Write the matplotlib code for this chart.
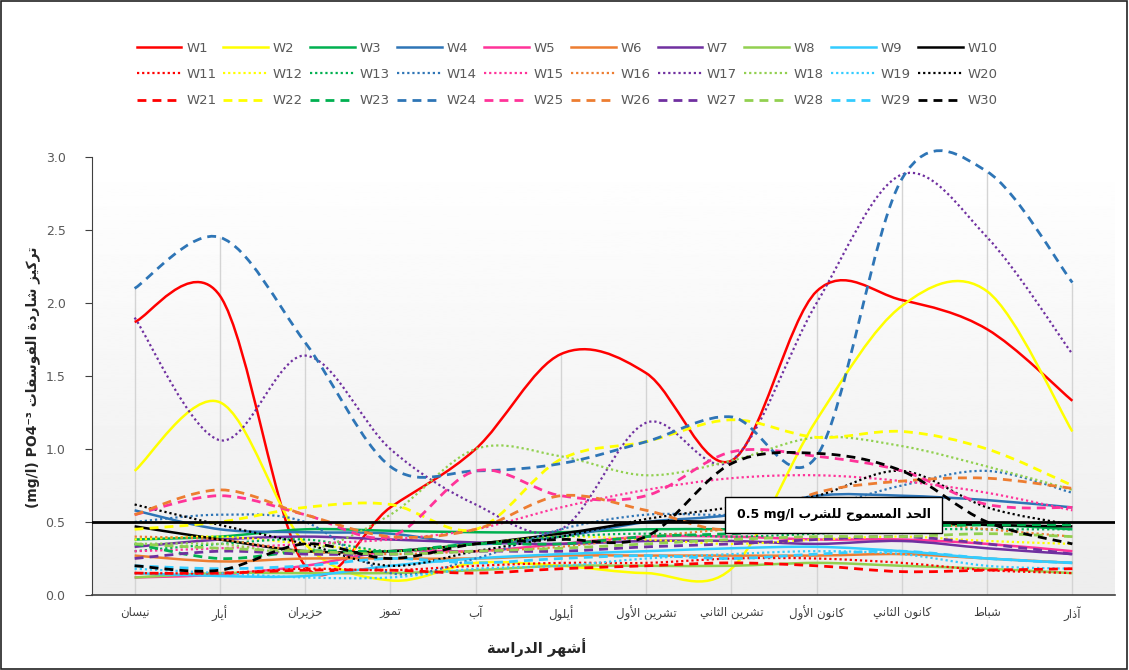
import numpy as np
import matplotlib
matplotlib.use("Agg")
import matplotlib.pyplot as plt
from matplotlib.path import Path
from matplotlib.patches import PathPatch, Rectangle
from matplotlib.lines import Line2D

plt.rcParams['font.family'] = ['DejaVu Sans']

# months of the study (logical Arabic order)
months = ['نيسان', 'أيار', 'حزيران', 'تموز', 'آب', 'أيلول', 'تشرين الأول',
          'تشرين الثاني', 'كانون الأول', 'كانون الثاني', 'شباط', 'آذار']
xtitle = 'أشهر الدراسة'
ytitle_ar = 'تركيز شاردة الفوسفات'
ytitle_lat = '(mg/l) PO4⁻³ '
limit_ar = 'الحد المسموح للشرب'
limit_lat = '0.5 mg/l '
limit_value = 0.5

# PO4 concentration (mg/l) per well, one value per month
W1 = [1.87, 2.05, 0.20, 0.60, 1.00, 1.65, 1.52, 0.92, 2.08, 2.02, 1.82, 1.33]
W2 = [0.85, 1.32, 0.35, 0.10, 0.22, 0.20, 0.15, 0.18, 1.20, 1.98, 2.08, 1.12]
W3 = [0.38, 0.40, 0.45, 0.44, 0.43, 0.43, 0.45, 0.45, 0.45, 0.47, 0.48, 0.45]
W4 = [0.58, 0.45, 0.43, 0.42, 0.35, 0.40, 0.50, 0.55, 0.68, 0.68, 0.65, 0.60]
W5 = [0.12, 0.14, 0.20, 0.30, 0.30, 0.35, 0.40, 0.40, 0.38, 0.38, 0.35, 0.30]
W6 = [0.27, 0.23, 0.25, 0.25, 0.25, 0.27, 0.27, 0.27, 0.27, 0.28, 0.25, 0.22]
W7 = [0.33, 0.38, 0.40, 0.38, 0.36, 0.35, 0.37, 0.37, 0.35, 0.37, 0.32, 0.28]
W8 = [0.12, 0.15, 0.15, 0.15, 0.17, 0.20, 0.20, 0.20, 0.22, 0.20, 0.18, 0.15]
W9 = [0.15, 0.13, 0.13, 0.20, 0.25, 0.28, 0.30, 0.32, 0.33, 0.30, 0.25, 0.22]
W10 = [0.47, 0.38, 0.30, 0.30, 0.35, 0.42, 0.50, 0.50, 0.50, 0.50, 0.48, 0.47]
W11 = [0.15, 0.15, 0.18, 0.17, 0.20, 0.22, 0.22, 0.25, 0.25, 0.22, 0.17, 0.15]
W12 = [0.38, 0.40, 0.35, 0.30, 0.35, 0.40, 0.38, 0.35, 0.38, 0.40, 0.37, 0.35]
W13 = [0.30, 0.35, 0.38, 0.30, 0.35, 0.40, 0.42, 0.40, 0.42, 0.45, 0.45, 0.45]
W14 = [0.50, 0.55, 0.50, 0.15, 0.25, 0.45, 0.55, 0.55, 0.60, 0.75, 0.85, 0.70]
W15 = [0.30, 0.32, 0.35, 0.38, 0.45, 0.60, 0.72, 0.80, 0.82, 0.78, 0.70, 0.58]
W16 = [0.40, 0.38, 0.30, 0.28, 0.30, 0.33, 0.40, 0.45, 0.48, 0.50, 0.45, 0.40]
W17 = [1.90, 1.06, 1.64, 1.00, 0.62, 0.45, 1.18, 0.92, 2.00, 2.88, 2.45, 1.65]
W18 = [0.35, 0.35, 0.30, 0.55, 1.00, 0.95, 0.82, 0.92, 1.08, 1.02, 0.88, 0.72]
W19 = [0.18, 0.15, 0.12, 0.12, 0.18, 0.20, 0.25, 0.28, 0.30, 0.28, 0.20, 0.18]
W20 = [0.62, 0.48, 0.35, 0.20, 0.30, 0.40, 0.52, 0.60, 0.68, 0.85, 0.60, 0.48]
W21 = [0.15, 0.15, 0.17, 0.17, 0.15, 0.18, 0.20, 0.22, 0.20, 0.16, 0.17, 0.18]
W22 = [0.45, 0.50, 0.60, 0.62, 0.45, 0.93, 1.05, 1.20, 1.08, 1.12, 1.00, 0.75]
W23 = [0.35, 0.25, 0.30, 0.30, 0.35, 0.35, 0.40, 0.42, 0.45, 0.47, 0.48, 0.48]
W24 = [2.10, 2.45, 1.73, 0.88, 0.85, 0.90, 1.05, 1.22, 0.95, 2.85, 2.90, 2.14]
W25 = [0.55, 0.68, 0.55, 0.40, 0.85, 0.68, 0.68, 0.98, 0.95, 0.85, 0.62, 0.60]
W26 = [0.55, 0.72, 0.55, 0.40, 0.45, 0.68, 0.58, 0.45, 0.70, 0.78, 0.80, 0.73]
W27 = [0.25, 0.30, 0.28, 0.28, 0.30, 0.30, 0.33, 0.35, 0.38, 0.40, 0.35, 0.28]
W28 = [0.35, 0.32, 0.30, 0.28, 0.30, 0.32, 0.35, 0.38, 0.40, 0.40, 0.42, 0.40]
W29 = [0.20, 0.18, 0.20, 0.25, 0.22, 0.25, 0.27, 0.25, 0.28, 0.30, 0.25, 0.22]
W30 = [0.20, 0.17, 0.35, 0.25, 0.35, 0.38, 0.40, 0.90, 0.97, 0.85, 0.50, 0.35]

series = [W1, W2, W3, W4, W5, W6, W7, W8, W9, W10,
          W11, W12, W13, W14, W15, W16, W17, W18, W19, W20,
          W21, W22, W23, W24, W25, W26, W27, W28, W29, W30]
names = ['W%d' % (i + 1) for i in range(30)]

base_colors = ['#ff0000', '#ffff00', '#00b050', '#2e75b6', '#ff3399',
               '#ed7d31', '#7030a0', '#92d050', '#33ccff', '#000000']

# --- minimal Arabic shaping (matplotlib has no shaping / bidi) ---
four = {'ئ': 0xFE89, 'ب': 0xFE8F, 'ت': 0xFE95, 'ث': 0xFE99, 'ج': 0xFE9D,
        'ح': 0xFEA1, 'خ': 0xFEA5, 'س': 0xFEB1, 'ش': 0xFEB5, 'ص': 0xFEB9,
        'ض': 0xFEBD, 'ط': 0xFEC1, 'ظ': 0xFEC5, 'ع': 0xFEC9, 'غ': 0xFECD,
        'ف': 0xFED1, 'ق': 0xFED5, 'ك': 0xFED9, 'ل': 0xFEDD, 'م': 0xFEE1,
        'ن': 0xFEE5, 'ه': 0xFEE9, 'ي': 0xFEF1}
two = {'آ': 0xFE81, 'أ': 0xFE83, 'ؤ': 0xFE85, 'إ': 0xFE87, 'ا': 0xFE8D,
       'ة': 0xFE93, 'د': 0xFEA9, 'ذ': 0xFEAB, 'ر': 0xFEAD, 'ز': 0xFEAF,
       'و': 0xFEED, 'ى': 0xFEEF}
lamalef = {'آ': 0xFEF5, 'أ': 0xFEF7, 'إ': 0xFEF9, 'ا': 0xFEFB}


def ar(s):
    toks = []
    i = 0
    while i < len(s):
        if s[i] == 'ل' and i + 1 < len(s) and s[i + 1] in lamalef:
            toks.append(('LA', s[i + 1]))
            i += 2
        else:
            toks.append(('C', s[i]))
            i += 1

    def is_ar(t):
        return t[0] == 'LA' or t[1] in four or t[1] in two

    out = []
    for k, t in enumerate(toks):
        prev = toks[k - 1] if k > 0 else None
        nxt = toks[k + 1] if k + 1 < len(toks) else None
        cp = prev is not None and prev[0] == 'C' and prev[1] in four
        cn = nxt is not None and is_ar(nxt)
        if t[0] == 'LA':
            out.append(chr(lamalef[t[1]] + (1 if cp else 0)))
        elif t[1] in four:
            out.append(chr(four[t[1]] + (3 if cp and cn else 2 if cn else 1 if cp else 0)))
        elif t[1] in two:
            out.append(chr(two[t[1]] + (1 if cp else 0)))
        else:
            out.append(t[1])
    return ''.join(out)[::-1]


def smooth_path(xs, ys):
    # Excel-like smoothed line: Catmull-Rom converted to cubic Bezier
    p = np.column_stack([xs, ys]).astype(float)
    ext = np.vstack([p[0], p, p[-1]])
    verts = [p[0]]
    codes = [Path.MOVETO]
    for i in range(len(p) - 1):
        p0, p1, p2, p3 = ext[i], ext[i + 1], ext[i + 2], ext[i + 3]
        verts += [p1 + (p2 - p0) / 6.0, p2 - (p3 - p1) / 6.0, p2]
        codes += [Path.CURVE4] * 3
    return Path(verts, codes)


fig = plt.figure(figsize=(11.29, 6.70), dpi=100)
ax = fig.add_axes([92 / 1129, 75 / 670, 1023 / 1129, 438 / 670])

x = np.arange(len(months))
ax.set_xlim(-0.5, len(months) - 0.5)
ax.set_ylim(0, 3.0)

# plot-area gradient
grad = np.linspace(1.0, 0.93, 256).reshape(-1, 1)
ax.imshow(grad, extent=(-0.5, len(months) - 0.5, 0, 3.0), aspect='auto',
          cmap='gray', vmin=0, vmax=1, zorder=0, origin='upper')

# drop lines from the highest well to the axis
data = np.array(series)
ax.vlines(x, 0, data.max(axis=0), color='#d4d4d4', lw=1, zorder=1)

styles = ['-'] * 10 + [(0, (1, 1.3))] * 10 + [(0, (3.2, 2.2))] * 10
widths = [1.8] * 10 + [1.6] * 10 + [2.0] * 10
handles = []
for i, vals in enumerate(series):
    col = base_colors[i % 10]
    patch = PathPatch(smooth_path(x, vals), fill=False, edgecolor=col,
                      lw=widths[i], linestyle=styles[i], zorder=3,
                      clip_on=False, capstyle='butt')
    ax.add_patch(patch)
    handles.append(Line2D([], [], color=col, lw=widths[i], linestyle=styles[i]))

# permissible limit line and label
ax.axhline(limit_value, color='black', lw=2, zorder=5)
ax.text(8.2, limit_value + 0.048, limit_lat + ar(limit_ar), ha='center', va='center',
        fontsize=9, fontweight='bold', color='black', zorder=6,
        bbox=dict(boxstyle='square,pad=0.9', fc='white', ec='black', lw=1))

# axes styling
for s in ['top', 'right']:
    ax.spines[s].set_visible(False)
ax.spines['left'].set_color('#404040')
ax.spines['bottom'].set_color('#404040')
ax.spines['bottom'].set_linewidth(1.2)
ax.set_yticks(np.arange(0, 3.01, 0.5))
ax.set_yticklabels(['%.1f' % v for v in np.arange(0, 3.01, 0.5)])
ax.tick_params(axis='y', colors='#404040', labelcolor='#595959', labelsize=9,
               direction='out', length=5, pad=14)
ax.set_xticks(x)
ax.set_xticklabels([ar(m) for m in months])
ax.tick_params(axis='x', length=0, labelcolor='#404040', labelsize=8.5, pad=8)

fig.text(537 / 1129, (670 - 648) / 670, ar(xtitle), ha='center', va='center',
         fontsize=10.5, fontweight='bold', color='#262626')
fig.text(33 / 1129, (670 - 377) / 670, ytitle_lat + ar(ytitle_ar), rotation=90,
         ha='center', va='center', fontsize=10, fontweight='bold', color='#262626')

# legend: 3 rows x 10 columns, row-wise order
order = [r * 10 + c for c in range(10) for r in range(3)]
fig.legend([handles[k] for k in order], [names[k] for k in order], ncol=10,
           loc='upper center', bbox_to_anchor=(567 / 1129, (670 - 30) / 670),
           frameon=False, fontsize=9.5, handlelength=3.4, handletextpad=0.35,
           columnspacing=0.55, labelspacing=1.0, labelcolor='#595959')

# outer frame
fig.patches.append(Rectangle((0.0005, 0.001), 0.998, 0.997, transform=fig.transFigure,
                             fill=False, ec='#222222', lw=1.2))

fig.savefig('out.png', dpi=100)
